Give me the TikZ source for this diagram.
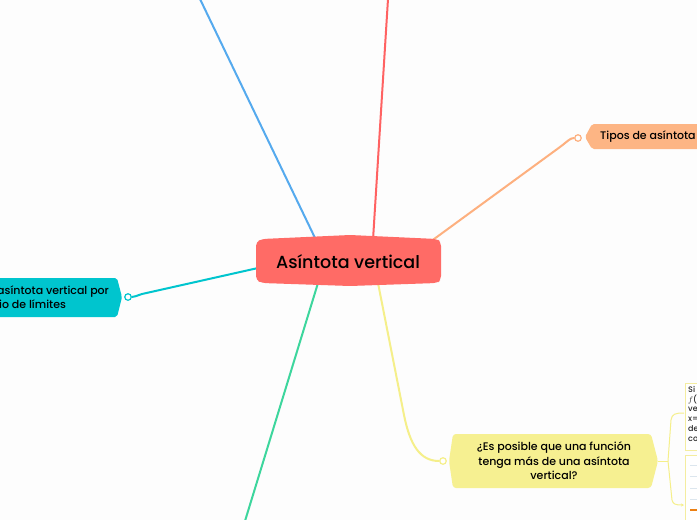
\documentclass[tikz,border=0pt]{standalone}
\usepackage{fontspec}
\setmainfont{Poppins}[UprightFont=* Medium]
\usetikzlibrary{arrows.meta}
\definecolor{bg}{HTML}{FDFDFD}
\definecolor{cred}{HTML}{FF6B66}
\definecolor{lblue}{HTML}{55AAEE}
\definecolor{lred}{HTML}{FF6262}
\definecolor{lorange}{HTML}{FDB07F}
\definecolor{forange}{HTML}{FDB584}
\definecolor{lcyan}{HTML}{00C5CE}
\definecolor{lgreen}{HTML}{3DD69D}
\definecolor{lyellow}{HTML}{F5EF8A}
\definecolor{fyellow}{HTML}{F6F091}
\definecolor{boxline}{HTML}{F4EDA0}
\definecolor{rowline}{HTML}{DCE6EE}
\tikzset{
  conn/.style={line width=2pt},
  dot/.style={circle, draw=#1, fill=white, line width=1.2pt, inner sep=0pt, minimum size=6.5pt},
  lbl/.style={inner sep=0pt, font=\fontsize{11}{14.5}\selectfont, text=black},
}
\begin{document}
\begin{tikzpicture}[x=1pt,y=-1pt]
\fill[bg] (0,0) rectangle (697,520);
\useasboundingbox (0,0) rectangle (697,520);

\coordinate (blueend) at (200,-1);
\coordinate (redend) at (388,-1);
\coordinate (greenend) at (245,521);
\coordinate (cblue) at (316,240);
\coordinate (cred) at (373,240);
\coordinate (corange) at (430,242);
\coordinate (ccyan) at (258,268);
\coordinate (cgreen) at (318,283);
\coordinate (cyel) at (378,283);

\node[dot=lorange] (odot) at (578,138) {};
\node[dot=lcyan] (cdot) at (128,297) {};
\node[dot=lyellow] (ydot) at (443,461) {};

\draw[conn, lblue] (blueend) -- (cblue);
\draw[conn, lred] (redend) -- (cred);
\draw[conn, lorange] (corange) -- (560,147) .. controls (568,141) and (570,138) .. (odot.west);
\draw[conn, lcyan] (ccyan) -- (142,294) .. controls (136,296) and (134,297) .. (cdot.east);
\draw[conn, lgreen] (cgreen) -- (greenend);
\draw[conn, lyellow] (cyel) -- (404,415) .. controls (410,445) and (420,461) .. (ydot.west);

% central node
\fill[cred, rounded corners=4pt] (256,242) -- (262,239) -- (350,235) -- (437,239) -- (441,242) -- (441,280) -- (437,283) -- (350,286) -- (262,283) -- (256,280) -- cycle;
\node[inner sep=0pt, font=\fontsize{17.5}{20}\selectfont] (centre) at (348,262) {Asíntota vertical};

% orange node
\fill[forange, rounded corners=2pt] (698,124) -- (592,124) -- (585,137) -- (592,149) -- (698,149);
\node[lbl, anchor=west] (tipos) at (600,137) {Tipos de asíntota};

% cyan node
\fill[lcyan, rounded corners=2pt] (-2,278) -- (117,278) -- (122,297) -- (117,317) -- (-2,317);
\node[lbl, anchor=west, align=left] (calc) at (-3,297) {asíntota vertical por\\\hspace*{2pt}io de límites};

% yellow node
\fill[fyellow, rounded corners=3pt] (453,434) -- (651,434) -- (658,461) -- (651,488) -- (453,488) -- (449,461) -- cycle;
\node[lbl, align=center] (posible) at (554,461) {¿Es posible que una función\\tenga más de una asíntota\\vertical?};

% right boxes
\draw[line width=1pt, boxline, fill=white] (685,383) rectangle (699,450);
\node[inner sep=0pt, anchor=north west, align=left, font=\fontsize{8}{9.8}\selectfont, text=black!85] (sitext) at (688,386) {Si\\$f$(x\\ve\\x=\\de\\co};
\draw[line width=1pt, boxline, fill=white] (685,455) rectangle (699,522);
\foreach \yy in {465,476,488,499}{\draw[rowline, line width=0.6pt] (690,\yy) -- (699,\yy);}
\draw[line width=1.5pt, color=orange!70!brown] (690,510) -- (699,510);

% bracket
\coordinate (bjoin) at (668,461);
\coordinate (btop) at (684,413);
\coordinate (bbot) at (684,505);
\draw[line width=1pt, lyellow] (658,461) -- (bjoin);
\draw[line width=1pt, lyellow] (bjoin) -- (671,420) .. controls (672,414) and (675,413) .. (btop);
\draw[line width=1pt, lyellow, -{Stealth[length=3pt,width=3pt]}] (bjoin) -- (672,500) .. controls (673,504) and (675,505) .. (bbot);
\end{tikzpicture}
\end{document}
